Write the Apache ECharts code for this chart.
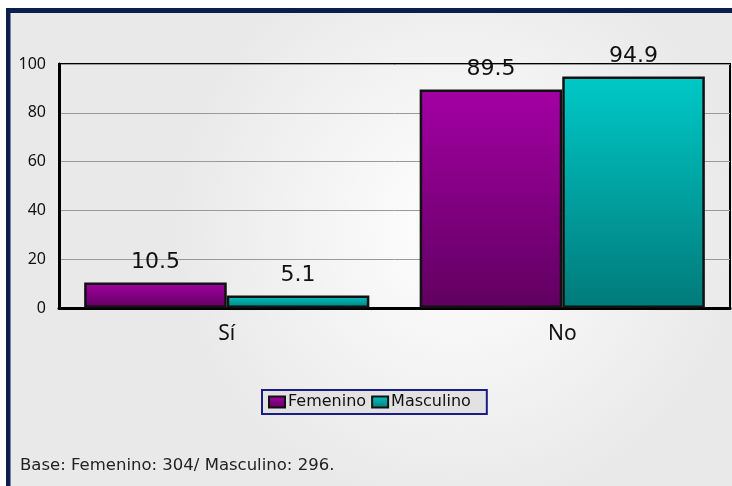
<!DOCTYPE html>
<html>
<head>
<meta charset="utf-8">
<script src="https://cdn.jsdelivr.net/npm/echarts@6/dist/echarts.min.js"></script>
<style>
  html, body { margin: 0; padding: 0; background: #fff; }
  #chart { width: 732px; height: 486px; }
</style>
</head>
<body>
<div id="chart"></div>
<script>
// 数据
const categories = ['Sí', 'No']
const seriesNames = ['Femenino', 'Masculino']
const femenino = [10.5, 89.5]
const masculino = [5.1, 94.9]
const footNote = 'Base: Femenino: 304/ Masculino: 296.'

const chart = echarts.init(document.getElementById('chart'))

// 柱子的渐变色
function barGradient(top, bottom) {
  return new echarts.graphic.LinearGradient(0, 0, 0, 1, [
    { offset: 0, color: top },
    { offset: 1, color: bottom }
  ])
}

const labelOption = {
  show: true,
  position: 'top',
  distance: 9,
  color: '#111',
  fontSize: 22,
  fontFamily: 'DejaVu Sans'
}

const option = {
  backgroundColor: '#fff',
  animation: false,
  graphic: {
    elements: [
      {
        type: 'rect',
        z: -100,
        shape: { x: 6, y: 8, width: 726, height: 478 },
        style: { fill: '#0c1e4e' }
      },
      {
        type: 'rect',
        z: -99,
        shape: { x: 10.5, y: 13, width: 722, height: 473 },
        style: {
          fill: {
            type: 'radial',
            x: 0.62,
            y: 0.45,
            r: 0.6,
            colorStops: [
              { offset: 0, color: '#ffffff' },
              { offset: 1, color: '#e9e9e9' }
            ]
          }
        }
      },
      {
        type: 'text',
        left: 20,
        top: 457,
        style: {
          text: footNote,
          fill: '#222',
          fontSize: 16.5,
          fontFamily: 'DejaVu Sans'
        }
      }
    ]
  },
  grid: {
    left: 59,
    top: 64,
    right: 2,
    bottom: 178,
    show: true,
    borderColor: '#000',
    borderWidth: 2,
    backgroundColor: 'transparent'
  },
  legend: {
    data: seriesNames,
    left: 262,
    top: 390,
    orient: 'horizontal',
    icon: 'rect',
    itemWidth: 16,
    itemHeight: 11,
    itemGap: 5,
    padding: [4, 16, 4, 6],
    backgroundColor: '#e2e2e2',
    borderColor: '#1c1c86',
    borderWidth: 2,
    borderRadius: 0,
    textStyle: {
      color: '#111',
      fontSize: 16,
      fontFamily: 'DejaVu Sans',
      padding: [0, 0, 0, -2]
    }
  },
  xAxis: {
    type: 'category',
    data: categories,
    axisLine: { show: true, lineStyle: { color: '#000', width: 3 } },
    axisTick: { show: false },
    axisLabel: {
      color: '#111',
      fontSize: 21,
      fontFamily: 'Noto Sans',
      margin: 16
    }
  },
  yAxis: {
    type: 'value',
    min: 0,
    max: 100,
    interval: 20,
    axisLine: { show: true, lineStyle: { color: '#000', width: 3 } },
    axisTick: { show: false },
    axisLabel: {
      color: '#111',
      fontSize: 16,
      fontFamily: 'Noto Sans',
      margin: 13
    },
    splitLine: { lineStyle: { color: '#999', width: 1 } }
  },
  series: [
    {
      name: seriesNames[0],
      type: 'bar',
      data: femenino,
      barGap: '0%',
      barCategoryGap: '15%',
      itemStyle: {
        color: barGradient('#a300a3', '#600060'),
        borderColor: '#111',
        borderWidth: 2.5
      },
      label: labelOption
    },
    {
      name: seriesNames[1],
      type: 'bar',
      data: masculino,
      itemStyle: {
        color: barGradient('#00c9c6', '#007a7a'),
        borderColor: '#111',
        borderWidth: 2.5
      },
      label: labelOption
    }
  ]
}

chart.setOption(option)
</script>
</body>
</html>
